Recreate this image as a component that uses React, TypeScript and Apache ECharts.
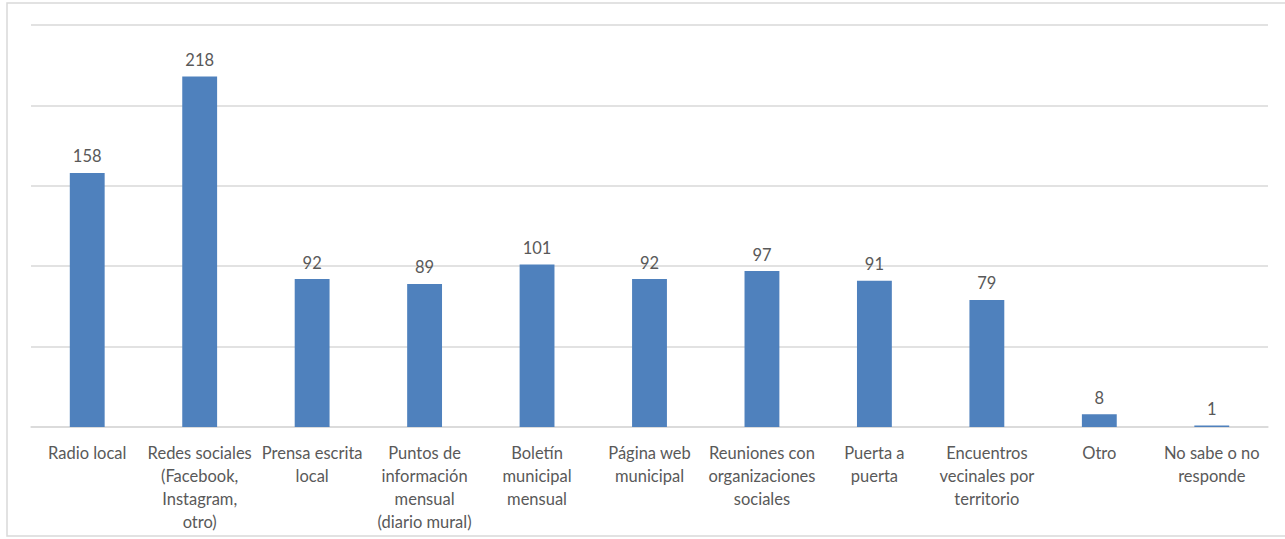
import React, { useEffect, useRef } from "react";
import * as echarts from "echarts";

const categories = [
  "Radio local",
  "Redes sociales\n(Facebook,\nInstagram,\notro)",
  "Prensa escrita\nlocal",
  "Puntos de\ninformación\nmensual\n(diario mural)",
  "Boletín\nmunicipal\nmensual",
  "Página web\nmunicipal",
  "Reuniones con\norganizaciones\nsociales",
  "Puerta a\npuerta",
  "Encuentros\nvecinales por\nterritorio",
  "Otro",
  "No sabe o no\nresponde",
];
const values = [158, 218, 92, 89, 101, 92, 97, 91, 79, 8, 1];

export default function App() {
  const ref = useRef<HTMLDivElement>(null);
  useEffect(() => {
    if (!ref.current) return;
    const chart = echarts.init(ref.current, undefined, { renderer: "svg" });
    chart.setOption({
      animation: false,
      backgroundColor: "#ffffff",
      textStyle: { fontFamily: "Lato" },
      graphic: [
        {
          type: "rect",
          shape: { x: 7, y: 3, width: 1290, height: 533 },
          style: { fill: "none", stroke: "#D9D9D9", lineWidth: 1.5 },
          silent: true,
        },
      ],
      grid: { left: 31, right: 17, top: 25, bottom: 112 },
      xAxis: {
        type: "category",
        data: categories,
        axisTick: { show: false },
        axisLine: { lineStyle: { color: "#D9D9D9", width: 1.5 } },
        axisLabel: {
          interval: 0,
          color: "#595959",
          fontSize: 16.5,
          lineHeight: 23,
          margin: 14,
          fontFamily: "Lato",
        },
      },
      yAxis: {
        type: "value",
        min: 0,
        max: 250,
        interval: 50,
        axisLabel: { show: false },
        axisLine: { show: false },
        axisTick: { show: false },
        splitLine: { lineStyle: { color: "#D9D9D9", width: 1.5 } },
      },
      series: [
        {
          type: "bar",
          data: values,
          barWidth: "31%",
          itemStyle: { color: "#4F81BD" },
          label: {
            show: true,
            position: "top",
            distance: 8,
            color: "#595959",
            fontSize: 16.5,
            fontFamily: "Lato",
          },
        },
      ],
    });
    return () => chart.dispose();
  }, []);
  return (
    <div
      ref={ref}
      style={{ position: "fixed", left: 0, top: 0, width: 1285, height: 539 }}
    />
  );
}
